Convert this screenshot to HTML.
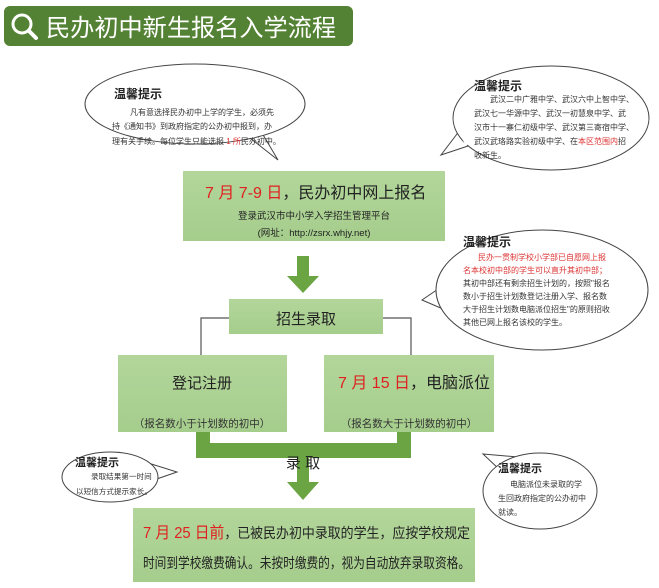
<!DOCTYPE html>
<html><head><meta charset="utf-8"><style>
body{margin:0;background:#fff}
svg{display:block}
text{font-family:"Liberation Sans","Noto Sans CJK SC",sans-serif}
</style></head><body>
<svg width="659" height="588" viewBox="0 0 659 588" xmlns="http://www.w3.org/2000/svg">
<defs>
<linearGradient id="g" x1="0" y1="0" x2="0" y2="1"><stop offset="0" stop-color="#b3d69b"/><stop offset="1" stop-color="#a5cd8c"/></linearGradient>
</defs>
<rect x="4" y="6" width="349" height="40" rx="6" fill="#548235"/>
<circle cx="22" cy="24" r="9" fill="none" stroke="#fff" stroke-width="3"/>
<line x1="29" y1="31" x2="36" y2="38" stroke="#fff" stroke-width="4" stroke-linecap="round"/>
<text x="46" y="36" font-size="24" fill="#fff" textLength="290" lengthAdjust="spacingAndGlyphs">民办初中新生报名入学流程</text>

<!-- bubble top-left -->
<path d="M250,138 L278,160 L262,133" fill="#fff" stroke="#444"/>
<ellipse cx="195" cy="104" rx="110" ry="40" fill="#fff" stroke="#444"/>
<path d="M251,137 L262,133" stroke="#fff" stroke-width="3"/>
<text x="114" y="98" font-size="12" font-weight="bold" fill="#222">温馨提示</text>
<text font-size="8" fill="#333"><tspan x="130" y="115">凡有意选择民办初中上学的学生，必须先</tspan><tspan x="112" y="129">持《通知书》到政府指定的公办初中报到，办</tspan><tspan x="112" y="144">理有关手续。每位学生只能选报 <tspan fill="#d33">1 所</tspan>民办初中。</tspan></text>

<!-- bubble top-right -->
<path d="M460,130 L441,155 L468,146" fill="#fff" stroke="#444"/>
<ellipse cx="551" cy="118" rx="98" ry="52" fill="#fff" stroke="#444"/>
<path d="M460,131 L467,145" stroke="#fff" stroke-width="3"/>
<text x="474" y="90" font-size="12" font-weight="bold" fill="#222">温馨提示</text>
<text font-size="8" fill="#333"><tspan x="490" y="102">武汉二中广雅中学、武汉六中上智中学、</tspan><tspan x="474" y="116">武汉七一华源中学、武汉一初慧泉中学、武</tspan><tspan x="474" y="130">汉市十一寨仁初级中学、武汉第三寄宿中学、</tspan><tspan x="474" y="144">武汉武珞路实验初级中学、在<tspan fill="#d33">本区范围内</tspan>招</tspan><tspan x="474" y="158">收新生。</tspan></text>

<!-- bubble mid-right -->
<path d="M444,285 L422,300 L450,312" fill="#fff" stroke="#444"/>
<ellipse cx="542" cy="290" rx="106" ry="60" fill="#fff" stroke="#444"/>
<path d="M445,287 L449,310" stroke="#fff" stroke-width="3"/>
<text x="463" y="246" font-size="12" font-weight="bold" fill="#222">温馨提示</text>
<text font-size="8" fill="#333"><tspan x="478" y="260" fill="#d33">民办一贯制学校小学部已自愿网上报</tspan><tspan x="463" y="273" fill="#d33">名本校初中部的学生可以直升其初中部；</tspan><tspan x="463" y="286">其初中部还有剩余招生计划的，按照"报名</tspan><tspan x="463" y="299">数小于招生计划数登记注册入学、报名数</tspan><tspan x="463" y="312">大于招生计划数电脑派位招生"的原则招收</tspan><tspan x="463" y="325">其他已网上报名该校的学生。</tspan></text>

<!-- top box -->
<rect x="183" y="171" width="262" height="70" fill="url(#g)"/>
<text x="205" y="198" font-size="16" fill="#222"><tspan fill="#e02020">7 月 7-9 日</tspan>，民办初中网上报名</text>
<text x="314" y="219" font-size="9.5" fill="#222" text-anchor="middle">登录武汉市中小学入学招生管理平台</text>
<text x="314" y="236" font-size="9.5" fill="#222" text-anchor="middle">(网址：http://zsrx.whjy.net)</text>

<!-- arrow 1 -->
<rect x="297" y="256" width="12" height="22" fill="#6aa443"/>
<polygon points="287,276 319,276 303,293" fill="#6aa443"/>

<!-- connectors -->
<polyline points="229,318 201,318 201,356" fill="none" stroke="#555" stroke-width="1.2"/>
<polyline points="383,318 411,318 411,356" fill="none" stroke="#555" stroke-width="1.2"/>
<rect x="229" y="299" width="154" height="35" fill="url(#g)"/>
<text x="306" y="324" font-size="15" fill="#222" text-anchor="middle">招生录取</text>

<rect x="118" y="355" width="169" height="77" fill="url(#g)"/>
<text x="202" y="388" font-size="15" fill="#222" text-anchor="middle">登记注册</text>
<text x="202" y="427" font-size="10.5" fill="#333" text-anchor="middle">（报名数小于计划数的初中）</text>

<rect x="324" y="355" width="170" height="77" fill="url(#g)"/>
<text x="338" y="388" font-size="16" fill="#222"><tspan fill="#e02020">7 月 15 日</tspan>，电脑派位</text>
<text x="409" y="427" font-size="10.5" fill="#333" text-anchor="middle">（报名数大于计划数的初中）</text>

<!-- U connector -->
<rect x="196" y="432" width="14" height="26" fill="#6aa443"/>
<rect x="397" y="432" width="14" height="26" fill="#6aa443"/>
<rect x="196" y="443" width="215" height="15" fill="#6aa443"/>
<rect x="297" y="458" width="12" height="26" fill="#6aa443"/>
<polygon points="287,482 319,482 303,500" fill="#6aa443"/>
<text x="303" y="468" font-size="15" fill="#222" text-anchor="middle">录 取</text>

<!-- bubble bottom-left -->
<path d="M145,462 L177,472 L148,482" fill="#fff" stroke="#444"/>
<ellipse cx="110" cy="477" rx="48" ry="25" fill="#fff" stroke="#444"/>
<path d="M146,464 L148,480" stroke="#fff" stroke-width="3"/>
<text x="75" y="466" font-size="11" font-weight="bold" fill="#222">温馨提示</text>
<text font-size="7.6" fill="#333"><tspan x="91" y="479">录取结果第一时间</tspan><tspan x="76" y="494">以短信方式提示家长。</tspan></text>

<!-- bubble bottom-right -->
<path d="M500,470 L483,454 L518,457" fill="#fff" stroke="#444"/>
<ellipse cx="540" cy="491" rx="57" ry="38" fill="#fff" stroke="#444"/>
<path d="M501,469 L517,458" stroke="#fff" stroke-width="3"/>
<text x="498" y="472" font-size="11" font-weight="bold" fill="#222">温馨提示</text>
<text font-size="8" fill="#333"><tspan x="510" y="487">电脑派位未录取的学</tspan><tspan x="498" y="501">生回政府指定的公办初中</tspan><tspan x="498" y="515">就读。</tspan></text>

<!-- bottom box -->
<rect x="133" y="508" width="342" height="74" fill="url(#g)"/>
<text x="143" y="538" font-size="14" fill="#222" textLength="327" lengthAdjust="spacingAndGlyphs"><tspan fill="#e02020" font-size="16">7 月 25 日前</tspan>，已被民办初中录取的学生，应按学校规定</text>
<text x="143" y="568" font-size="14" fill="#222" textLength="327" lengthAdjust="spacingAndGlyphs">时间到学校缴费确认。未按时缴费的，视为自动放弃录取资格。</text>
</svg>
</body></html>
